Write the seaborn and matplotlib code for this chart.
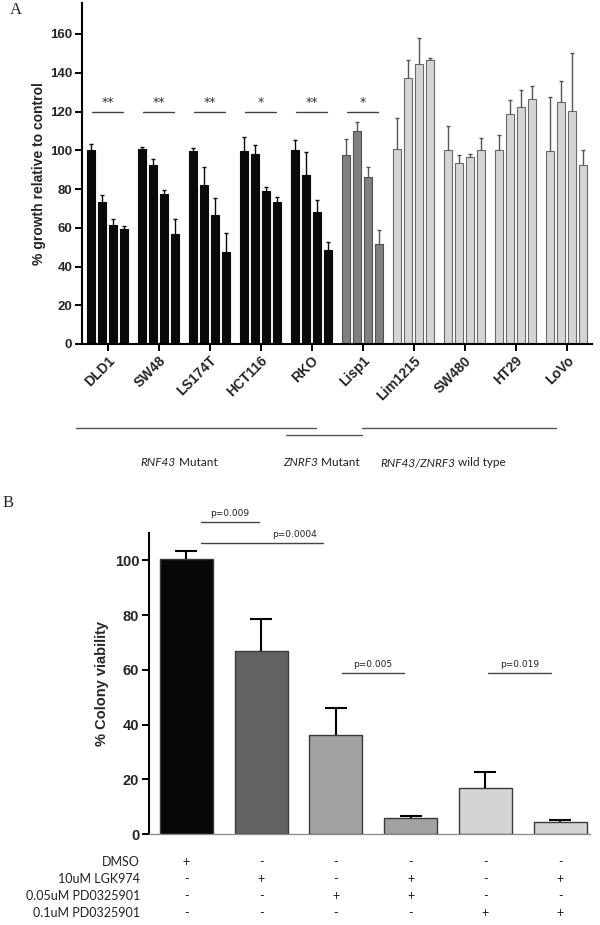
import numpy as np
import pandas as pd
import matplotlib
matplotlib.use("Agg")
import matplotlib.pyplot as plt
import matplotlib.transforms as mtransforms
from matplotlib.lines import Line2D
import seaborn as sns

# ==========================================
# DATA - PANEL A (growth relative to control)
# ==========================================

cell_lines = ["DLD1", "SW48", "LS174T", "HCT116", "RKO",
              "Lisp1", "Lim1215", "SW480", "HT29", "LoVo"]
doses = ["dose 1", "dose 2", "dose 3", "dose 4"]

growth = [
    [100.0, 73.5, 61.5, 59.5],
    [100.5, 92.5, 77.5, 57.0],
    [99.5, 82.0, 66.5, 47.5],
    [99.5, 98.0, 79.0, 73.5],
    [100.0, 87.0, 68.0, 48.5],
    [97.5, 110.0, 86.0, 51.5],
    [100.5, 137.5, 144.5, 146.7],
    [100.0, 93.5, 96.5, 100.0],
    [100.0, 118.5, 122.5, 126.3],
    [99.6, 124.7, 120.1, 92.6],
]
growth_err = [
    [3.0, 3.5, 3.0, 1.5],
    [1.2, 3.0, 2.0, 7.5],
    [1.5, 9.5, 9.0, 10.0],
    [7.5, 4.5, 1.8, 2.5],
    [5.3, 12.0, 6.2, 4.2],
    [8.5, 4.5, 5.5, 7.5],
    [16.0, 9.0, 13.5, 1.0],
    [12.5, 4.0, 1.5, 6.5],
    [8.0, 7.5, 8.5, 7.0],
    [27.7, 11.0, 30.0, 7.4],
]
sig_marks = ["**", "**", "**", "*", "**", "*", "", "", "", ""]

rnf43_mutant = cell_lines[:5]
znrf3_mutant = ["Lisp1"]
wild_type = cell_lines[6:]

# ==========================================
# DATA - PANEL B (colony viability)
# ==========================================

treatments = ["DMSO", "LGK974", "PD 0.05", "LGK974 + PD 0.05",
              "PD 0.1", "LGK974 + PD 0.1"]
viability = [100.5, 66.8, 36.3, 5.7, 16.9, 4.3]
viability_err = [2.9, 11.7, 9.7, 1.0, 5.8, 0.7]
viability_colors = ["#070707", "#626262", "#a1a2a6",
                    "#a1a2a6", "#d4d4d4", "#d4d4d4"]

table_rows = ["DMSO", "10uM LGK974", "0.05uM PD0325901", "0.1uM PD0325901"]
table_signs = [
    ["+", "-", "-", "-", "-", "-"],
    ["-", "+", "-", "+", "-", "+"],
    ["-", "-", "+", "+", "-", "-"],
    ["-", "-", "-", "-", "+", "+"],
]

p_labels = ["p=0.009", "p=0.0004", "p=0.005", "p=0.019"]
p_line_x = [(0.19, 0.97), (0.19, 1.83), (2.08, 2.91), (4.04, 4.88)]
p_line_y = [114.0, 106.5, 59.0, 59.0]
p_text_x = [0.58, 1.44, 2.49, 4.46]

# ==========================================
# STYLE
# ==========================================

sns.set_style("ticks")
plt.rcParams["font.family"] = ["Liberation Sans", "DejaVu Sans"]

W, H = 600, 925
fig = plt.figure(figsize=(6, 9.25), dpi=100)


def fx(px):
    return px / W


def fy(py):
    return 1 - py / H


def up_errorbar(ax, x, y, err, color, lw, cap):
    # one-sided (upper) error bar, lower cap hidden
    _, caps, _ = ax.errorbar(
        x, y, yerr=[[0], [err]], fmt="none", ecolor=color,
        elinewidth=lw, capsize=cap, capthick=lw, zorder=3
    )
    caps[0].set_visible(False)


# ==========================================
# PANEL A
# ==========================================

df_a = pd.DataFrame(
    [(c, d, growth[i][j], growth_err[i][j])
     for i, c in enumerate(cell_lines)
     for j, d in enumerate(doses)],
    columns=["cell", "dose", "growth", "err"]
)

ax_a = fig.add_axes([fx(82), fy(344), fx(592) - fx(82), fy(3) - fy(344)])

groups = [
    (rnf43_mutant, "#0a0a0a", "#0a0a0a", "#0a0a0a"),
    (znrf3_mutant, "#808080", "#505050", "#555555"),
    (wild_type, "#d5d5d5", "#6a6a6a", "#555555"),
]
err_color = {}
for cells, face, edge, ecol in groups:
    sub = df_a[df_a["cell"].isin(cells)]
    sns.barplot(
        data=sub, x="cell", y="growth", hue="dose",
        order=cell_lines, hue_order=doses,
        palette=[face] * 4, width=0.86, gap=0.31,
        edgecolor=edge, linewidth=0.8,
        errorbar=None, legend=False, ax=ax_a
    )
    for c in cells:
        err_color[c] = ecol

# error bars at the bar centres
bars = sorted(ax_a.patches, key=lambda p: p.get_x())
for bar, (_, row) in zip(bars, df_a.iterrows()):
    xc = bar.get_x() + bar.get_width() / 2
    up_errorbar(ax_a, xc, row["growth"], row["err"],
                err_color[row["cell"]], 1.0, 1.6)

# significance marks
for i, mark in enumerate(sig_marks):
    if not mark:
        continue
    ax_a.plot([i - 0.31, i + 0.31], [120, 120], color="#444444", lw=1.0)
    ax_a.text(i, 121.5, mark, ha="center", va="bottom",
              fontsize=9, color="#333333", family="DejaVu Sans")

ax_a.set_xlim(-0.5, 9.5)
ax_a.set_ylim(0, 176)
ax_a.set_yticks(np.arange(0, 161, 20))
ax_a.set_xlabel("")
ax_a.set_ylabel("% growth relative to control", fontsize=10,
                fontweight="bold", labelpad=3)
ax_a.set_xticks(range(len(cell_lines)))
ax_a.set_xticklabels(cell_lines, rotation=45, ha="right",
                     rotation_mode="anchor", fontsize=10, fontweight="bold")
plt.setp(ax_a.get_yticklabels(), fontweight="bold", fontsize=9.5)
ax_a.tick_params(axis="both", length=5, width=1.4, color="black", pad=2)
sns.despine(ax=ax_a)
for s in ["left", "bottom"]:
    ax_a.spines[s].set_linewidth(1.5)
    ax_a.spines[s].set_color("black")

# genotype group lines under panel A
fig.add_artist(Line2D([fx(76), fx(316)], [fy(428), fy(428)],
                      color="#555555", lw=1.0))
fig.add_artist(Line2D([fx(286), fx(362)], [fy(435), fy(435)],
                      color="#555555", lw=1.0))
fig.add_artist(Line2D([fx(362), fx(556)], [fy(428), fy(428)],
                      color="#555555", lw=1.0))

lab_kw = dict(va="center", fontsize=8.5, family="Lato", color="#222222")
fig.text(fx(176), fy(463), "RNF43", ha="right", style="italic", **lab_kw)
fig.text(fx(176), fy(463), " Mutant", ha="left", **lab_kw)
fig.text(fx(318), fy(463), "ZNRF3", ha="right", style="italic", **lab_kw)
fig.text(fx(318), fy(463), " Mutant", ha="left", **lab_kw)
fig.text(fx(455), fy(463), "RNF43/ZNRF3", ha="right", style="italic", **lab_kw)
fig.text(fx(455), fy(463), " wild type", ha="left", **lab_kw)

fig.text(fx(10), fy(10), "A", fontsize=12, family="Liberation Serif",
         ha="left", va="center")

# ==========================================
# PANEL B
# ==========================================

df_b = pd.DataFrame({
    "treatment": treatments,
    "viability": viability,
    "err": viability_err,
})

ax_b = fig.add_axes([fx(149), fy(834), fx(590) - fx(149), fy(533) - fy(834)])

sns.barplot(
    data=df_b, x="treatment", y="viability", hue="treatment",
    order=treatments, hue_order=treatments, palette=viability_colors,
    width=0.71, edgecolor="#3a3a3a", linewidth=1.0,
    errorbar=None, legend=False, ax=ax_b
)

bars_b = sorted(ax_b.patches, key=lambda p: p.get_x())
for bar, v, e in zip(bars_b, viability, viability_err):
    xc = bar.get_x() + bar.get_width() / 2
    up_errorbar(ax_b, xc, v, e, "black", 1.5, 8)

# p-value brackets
for lab, (x0, x1), yl, xt in zip(p_labels, p_line_x, p_line_y, p_text_x):
    ax_b.plot([x0, x1], [yl, yl], color="#444444", lw=1.0, clip_on=False)
    ax_b.text(xt, yl + 1.3, lab, ha="center", va="bottom", fontsize=6.5,
              family="DejaVu Sans", color="#222222", clip_on=False)

ax_b.set_xlim(-0.5, 5.4)
ax_b.set_ylim(0, 110)
ax_b.set_yticks(np.arange(0, 101, 20))
ax_b.set_xticks([])
ax_b.set_xlabel("")
ax_b.set_ylabel("% Colony viability", fontsize=10.5, fontweight="bold",
                labelpad=4)
plt.setp(ax_b.get_yticklabels(), fontweight="bold", fontsize=10.5)
ax_b.tick_params(axis="y", length=5, width=1.4, color="black", pad=2)
sns.despine(ax=ax_b)
ax_b.spines["left"].set_linewidth(1.5)
ax_b.spines["left"].set_color("black")
ax_b.spines["bottom"].set_linewidth(0.9)
ax_b.spines["bottom"].set_color("#8a8a8a")

# treatment table under panel B
tab = mtransforms.blended_transform_factory(ax_b.transData, fig.transFigure)
row_y = [862, 879, 896, 913]
tab_kw = dict(fontsize=9, family="Lato", color="#222222", va="center")
for r, (name, signs) in enumerate(zip(table_rows, table_signs)):
    fig.text(fx(140), fy(row_y[r]), name, ha="right", **tab_kw)
    for c, s in enumerate(signs):
        ax_b.text(c, fy(row_y[r]), s, ha="center", transform=tab,
                  clip_on=False, **tab_kw)

fig.text(fx(3), fy(503), "B", fontsize=12, family="Liberation Serif",
         ha="left", va="center")

fig.savefig("out.png", dpi=100, facecolor="white")
